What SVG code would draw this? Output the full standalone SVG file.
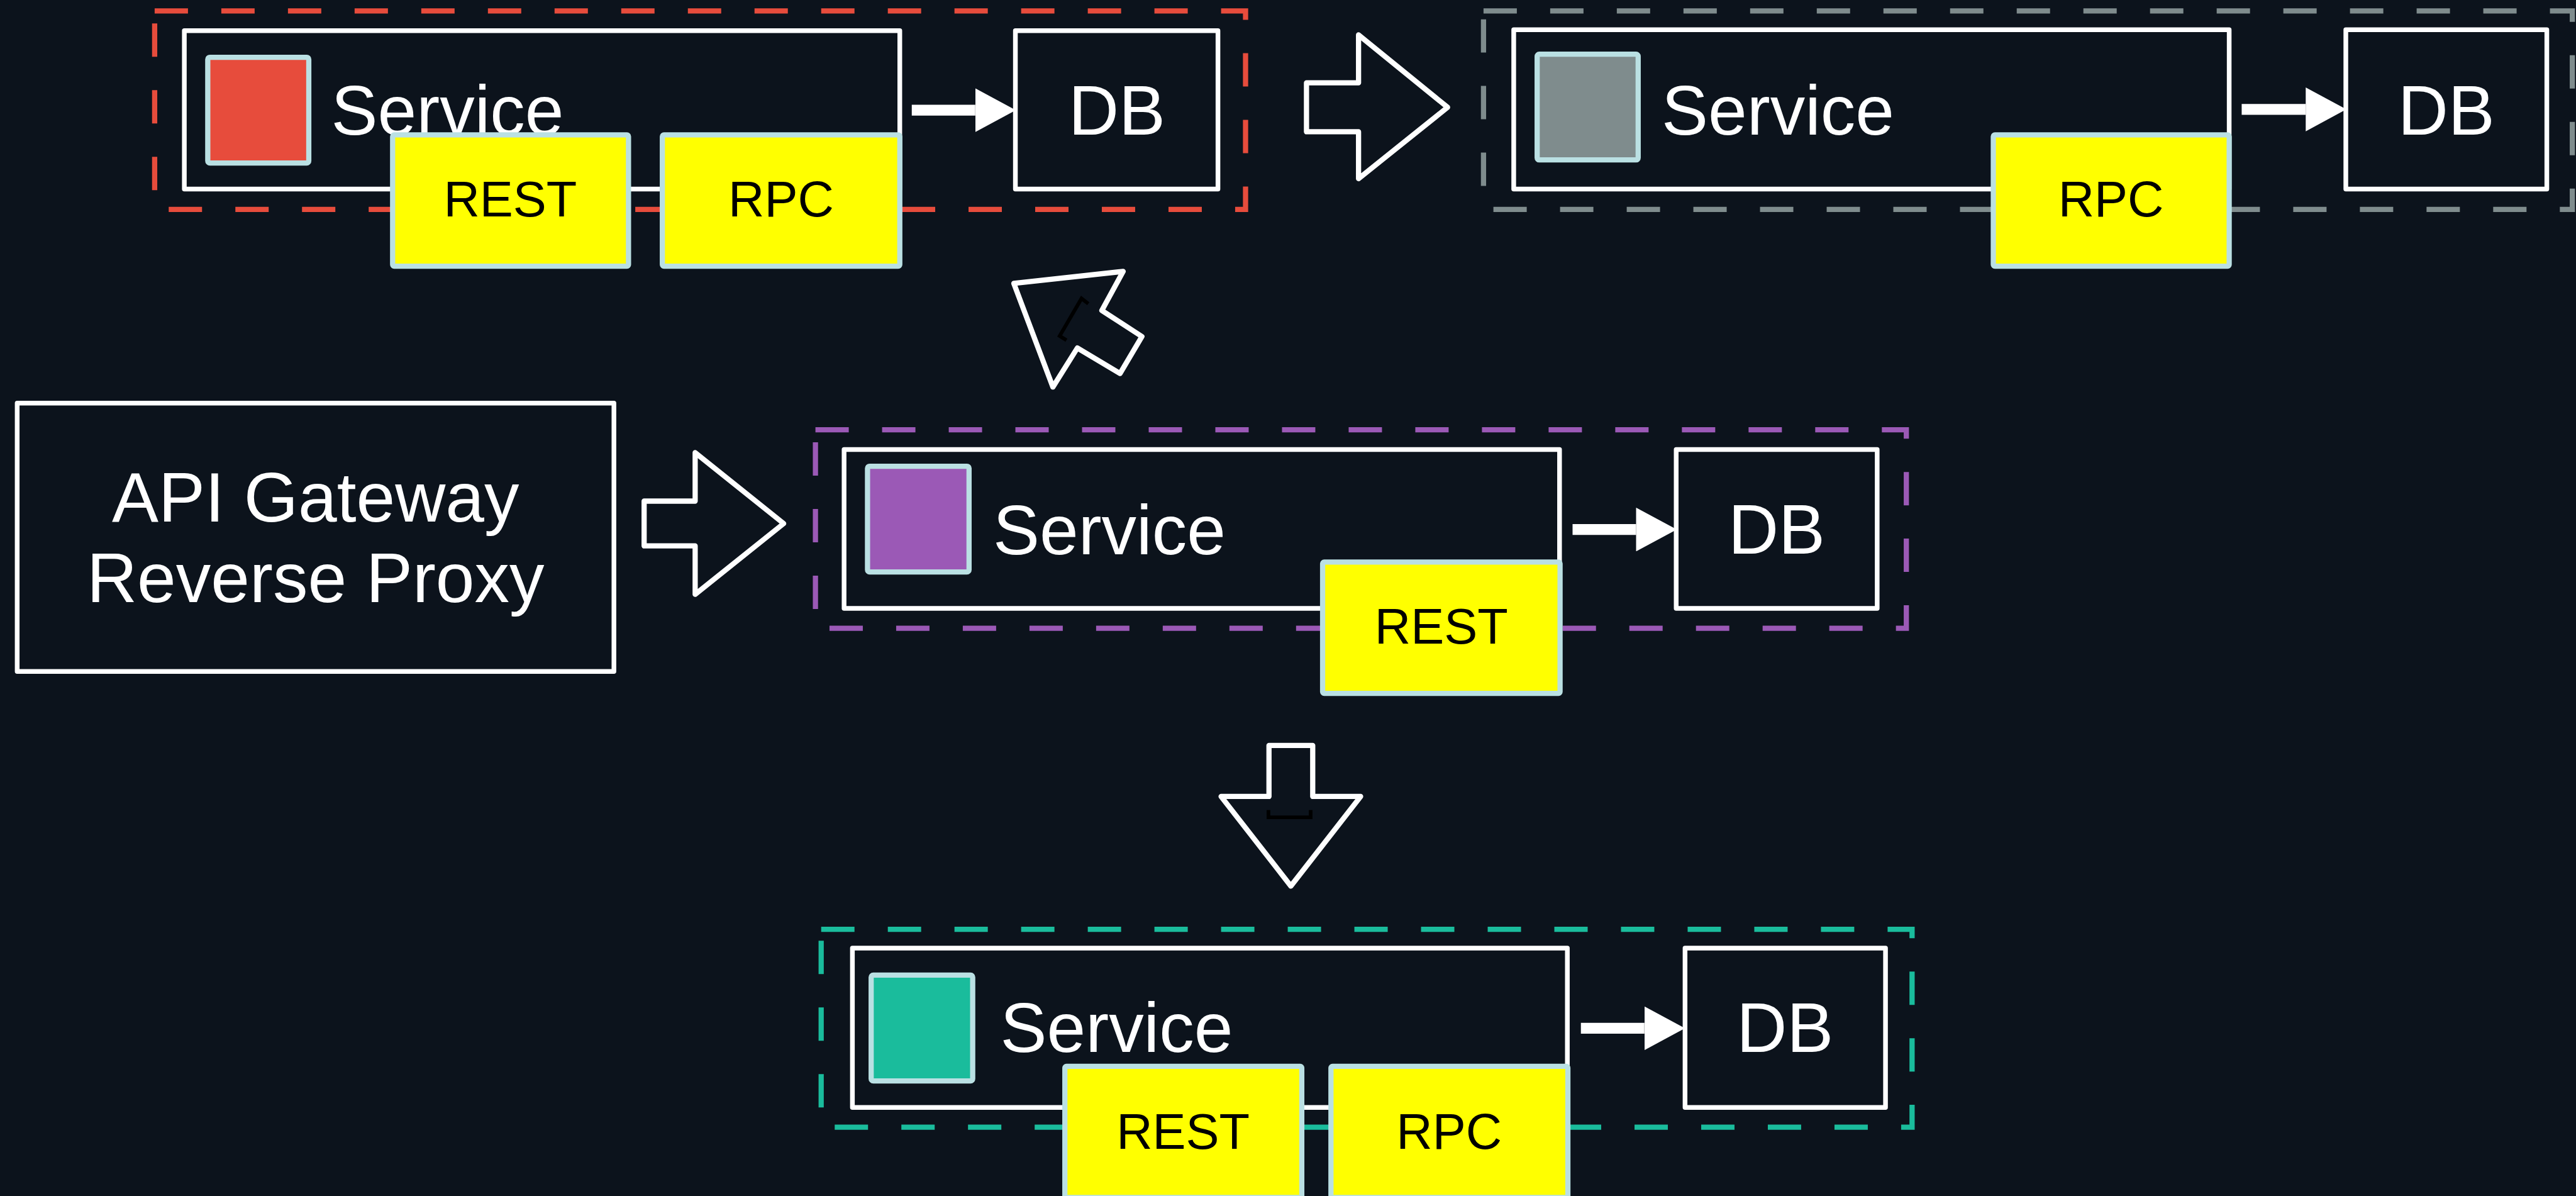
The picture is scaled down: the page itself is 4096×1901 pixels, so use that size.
<svg xmlns="http://www.w3.org/2000/svg" width="4096" height="1901" viewBox="0 0 4096 1901">
  <style>
    .bg { fill: #0c131c; }
    .box { fill: #0c131c; stroke: #ffffff; stroke-width: 9; stroke-linejoin: round; }
    .zone { fill: none; stroke-width: 10; stroke-dasharray: 64 64; }
    .chip { stroke: #bae0e3; stroke-width: 10; stroke-linejoin: round; }
    .iface { fill: #ffff00; stroke: #bae0e3; stroke-width: 10; stroke-linejoin: round; }
    .big { font-family: "Liberation Sans", Arial, sans-serif; font-size: 134px; fill: #ffffff; }
    .small { font-family: "Liberation Sans", Arial, sans-serif; font-size: 96px; fill: #000000; text-anchor: middle; }
    .mid { text-anchor: middle; }
    .link { stroke: #ffffff; stroke-width: 21; fill: none; marker-end: url(#ah); }
    .block { fill: none; stroke: #ffffff; stroke-width: 10; stroke-linejoin: round; }
    .tick { fill: none; stroke: #000000; stroke-width: 7; }
  </style>
  <defs>
    <marker id="ah" markerUnits="userSpaceOnUse" markerWidth="78" markerHeight="84" refX="0" refY="42" orient="auto">
      <path d="M0,0 L78,42 L0,84 z" fill="#ffffff"/>
    </marker>
  </defs>

  <rect class="bg" x="0" y="0" width="4096" height="1901"/>

  <g transform="scale(0.82797)">
    <!-- service zones (dashed containers) -->
    <g id="zone-red">
      <rect class="zone" stroke="#e74c3c" x="297" y="21" width="2095" height="381"/>
    </g>
    <g id="zone-gray">
      <rect class="zone" stroke="#7f8c8d" x="2849" y="21" width="2091" height="381"/>
    </g>
    <g id="zone-purple">
      <rect class="zone" stroke="#9b59b6" x="1566" y="825" width="2095" height="381"/>
    </g>
    <g id="zone-teal">
      <rect class="zone" stroke="#1abc9c" x="1577" y="1784" width="2095" height="380"/>
    </g>

    <!-- connectors -->
    <g id="connectors">
      <line class="link" x1="1751" y1="211.5" x2="1873" y2="211.5"/>
      <line class="link" x1="4305" y1="210" x2="4428" y2="210"/>
      <line class="link" x1="3020" y1="1016.5" x2="3142" y2="1016.5"/>
      <line class="link" x1="3036" y1="1974" x2="3158" y2="1974"/>

      <polygon class="block" points="1237,962 1335,962 1335,869 1505,1005 1335,1141 1335,1048 1237,1048"/>
      <polygon class="block" points="2509,159 2609,159 2609,67 2780,206 2609,343 2609,253 2509,253"/>
      <polygon class="block" points="2437,1431 2521,1431 2521,1529 2613,1529 2479,1701 2345,1529 2437,1529"/>
      <polygon class="block" points="1947,544 2157,521 2116,596 2193,646 2151,717 2069,668 2022,743"/>
      <polyline class="tick" points="2090,583 2077,573 2035,645 2048,653"/>
      <polyline class="tick" points="2436,1555 2436,1569 2517,1569 2517,1555"/>
    </g>

    <!-- API gateway -->
    <g id="gateway">
      <rect class="box" x="33" y="774" width="1146" height="515"/>
      <text class="big mid" x="606" y="1001">API Gateway</text>
      <text class="big mid" x="606" y="1156">Reverse Proxy</text>
    </g>

    <!-- red service -->
    <g id="service-red">
      <rect class="box" x="354" y="59" width="1374" height="304"/>
      <rect class="chip" fill="#e74c3c" x="399" y="110" width="194" height="203" rx="4"/>
      <text class="big" x="636" y="258">Service</text>
    </g>
    <g id="rest-red">
      <rect class="iface" x="754" y="259" width="453" height="252" rx="3"/>
      <text class="small" x="980" y="416">REST</text>
    </g>
    <g id="rpc-red">
      <rect class="iface" x="1272" y="259" width="456" height="252" rx="3"/>
      <text class="small" x="1500" y="416">RPC</text>
    </g>
    <g id="db-red">
      <rect class="box" x="1950" y="59" width="389" height="304"/>
      <text class="big mid" x="2145" y="258">DB</text>
    </g>

    <!-- gray service -->
    <g id="service-gray">
      <rect class="box" x="2907" y="57" width="1374" height="306"/>
      <rect class="chip" fill="#7f8c8d" x="2952" y="104" width="194" height="203" rx="4"/>
      <text class="big" x="3191" y="258">Service</text>
    </g>
    <g id="rpc-gray">
      <rect class="iface" x="3828" y="259" width="453" height="252" rx="3"/>
      <text class="small" x="4054" y="416">RPC</text>
    </g>
    <g id="db-gray">
      <rect class="box" x="4505" y="57" width="386" height="306"/>
      <text class="big mid" x="4698" y="258">DB</text>
    </g>

    <!-- purple service -->
    <g id="service-purple">
      <rect class="box" x="1621" y="863" width="1374" height="305"/>
      <rect class="chip" fill="#9b59b6" x="1666" y="895" width="195" height="203" rx="4"/>
      <text class="big" x="1907" y="1064">Service</text>
    </g>
    <g id="rest-purple">
      <rect class="iface" x="2540" y="1079" width="456" height="252" rx="3"/>
      <text class="small" x="2768" y="1236">REST</text>
    </g>
    <g id="db-purple">
      <rect class="box" x="3219" y="863" width="386" height="305"/>
      <text class="big mid" x="3412" y="1063">DB</text>
    </g>

    <!-- teal service -->
    <g id="service-teal">
      <rect class="box" x="1637" y="1820" width="1373" height="306"/>
      <rect class="chip" fill="#1abc9c" x="1673" y="1872" width="195" height="203" rx="4"/>
      <text class="big" x="1921" y="2020">Service</text>
    </g>
    <g id="rest-teal">
      <rect class="iface" x="2045" y="2047" width="455" height="252" rx="3"/>
      <text class="small" x="2272" y="2205">REST</text>
    </g>
    <g id="rpc-teal">
      <rect class="iface" x="2556" y="2047" width="455" height="252" rx="3"/>
      <text class="small" x="2783" y="2205">RPC</text>
    </g>
    <g id="db-teal">
      <rect class="box" x="3236" y="1820" width="385" height="306"/>
      <text class="big mid" x="3428" y="2020">DB</text>
    </g>
  </g>
</svg>
